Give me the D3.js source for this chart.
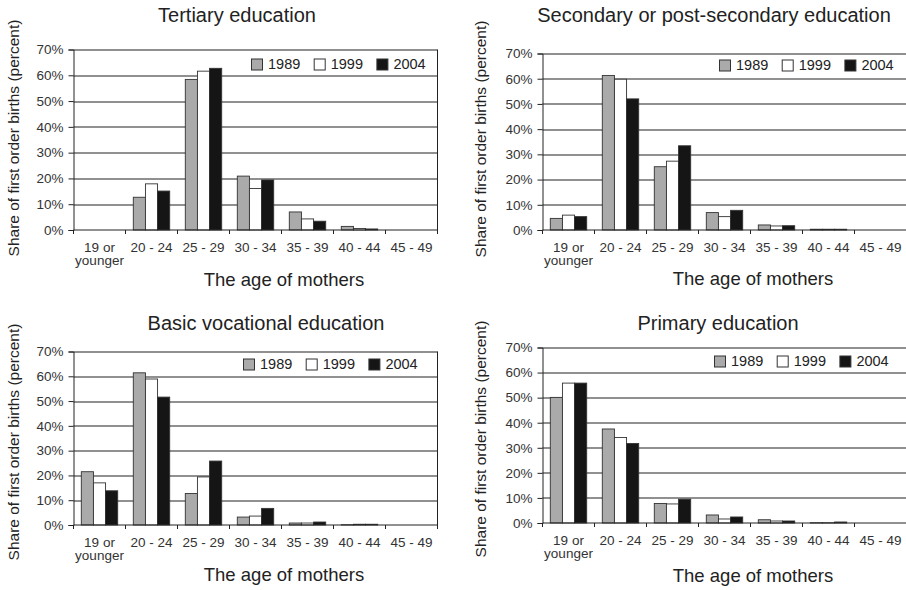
<!DOCTYPE html>
<html>
<head>
<meta charset="utf-8">
<script src="https://cdn.jsdelivr.net/npm/d3@7"></script>
<style>
  body { margin: 0; background: #fff; }
  svg { font-family: "Liberation Sans", Arial, sans-serif; }
</style>
</head>
<body>
<svg id="chart" width="906" height="590"></svg>
<script>
const categories = ['19 or younger', '20 - 24', '25 - 29', '30 - 34', '35 - 39', '40 - 44', '45 - 49'];
const years = ['1989', '1999', '2004'];
const yTicks = [0, 10, 20, 30, 40, 50, 60, 70];

const tertiary1989 = [0, 12.7, 58.4, 20.9, 7.0, 1.4, 0];
const tertiary1999 = [0, 17.9, 61.6, 16.1, 4.3, 0.6, 0];
const tertiary2004 = [0, 15.1, 62.7, 19.4, 3.4, 0.4, 0];

const secondary1989 = [4.6, 61.3, 25.1, 6.9, 2.0, 0.3, 0];
const secondary1999 = [5.9, 59.8, 27.3, 5.3, 1.6, 0.3, 0];
const secondary2004 = [5.3, 52.0, 33.4, 7.8, 1.7, 0.3, 0];

const vocational1989 = [21.5, 61.4, 12.7, 3.2, 0.8, 0.1, 0];
const vocational1999 = [17.0, 58.9, 19.4, 3.6, 0.8, 0.3, 0];
const vocational2004 = [13.8, 51.6, 25.8, 6.7, 1.2, 0.3, 0];

const primary1989 = [50.1, 37.5, 7.8, 3.2, 1.3, 0.1, 0];
const primary1999 = [55.8, 34.1, 7.6, 1.6, 0.8, 0.1, 0];
const primary2004 = [55.8, 31.7, 9.5, 2.4, 0.8, 0.4, 0];

const colors = ['#aaaaaa', '#ffffff', '#151515'];

// layout of each of the four small charts
const panels = [
  {title: 'Tertiary education', series: [tertiary1989, tertiary1999, tertiary2004],
   left: 73.5, top: 49.5, bottom: 230, titleX: 237, titleY: 22, xtX: 284, xtY: 286,
   ylX: 18.5, ylY: 138, legX: 251.5, legY: 59},
  {title: 'Secondary or post-secondary education', series: [secondary1989, secondary1999, secondary2004],
   left: 542.5, top: 53.5, bottom: 230, titleX: 714, titleY: 22, xtX: 753, xtY: 285,
   ylX: 486, ylY: 139, legX: 719.5, legY: 60},
  {title: 'Basic vocational education', series: [vocational1989, vocational1999, vocational2004],
   left: 73.5, top: 351.5, bottom: 525, titleX: 266, titleY: 330, xtX: 284, xtY: 581,
   ylX: 18.5, ylY: 442, legX: 243.5, legY: 359},
  {title: 'Primary education', series: [primary1989, primary1999, primary2004],
   left: 542.5, top: 347.5, bottom: 523, titleX: 718, titleY: 330, xtX: 753, xtY: 582,
   ylX: 486, ylY: 439, legX: 714.5, legY: 356}
];

const svg = d3.select('#chart');
const plotWidth = 364;

panels.forEach(function(p) {
  const height = p.bottom - p.top;
  const g = svg.append('g').attr('transform', 'translate(' + p.left + ',' + p.top + ')');

  const x = d3.scaleBand().domain(categories).range([0, plotWidth]);
  const xs = d3.scaleBand().domain(years).range([x.bandwidth() * 0.15, x.bandwidth() * 0.85]);
  const y = d3.scaleLinear().domain([0, 70]).range([height, 0]);

  // gridlines
  g.append('g')
    .selectAll('line')
    .data(yTicks.filter(d => d > 0))
    .join('line')
    .attr('x1', 0).attr('x2', plotWidth)
    .attr('y1', d => Math.round(y(d)) + 0.5).attr('y2', d => Math.round(y(d)) + 0.5)
    .attr('stroke', '#222').attr('stroke-width', 1.1);

  // right border
  g.append('line')
    .attr('x1', plotWidth).attr('x2', plotWidth)
    .attr('y1', 0).attr('y2', height)
    .attr('stroke', '#222');

  // bars
  p.series.forEach(function(values, i) {
    g.append('g')
      .selectAll('rect')
      .data(values.map((v, j) => ({cat: categories[j], v: v})).filter(d => d.v > 0))
      .join('rect')
      .attr('x', d => x(d.cat) + xs(years[i]))
      .attr('y', d => y(d.v))
      .attr('width', xs.bandwidth())
      .attr('height', d => height - y(d.v))
      .attr('fill', colors[i])
      .attr('stroke', '#333')
      .attr('stroke-width', 0.9);
  });

  // y axis
  const yAxis = g.append('g')
    .call(d3.axisLeft(y).tickValues(yTicks).tickFormat(d => d + '%').tickSize(5).tickPadding(5));
  yAxis.select('.domain').attr('stroke', '#222');
  yAxis.selectAll('.tick line').attr('stroke', '#222');
  yAxis.selectAll('text').attr('font-size', 13.5).attr('fill', '#333')
    .attr('font-family', '"Liberation Sans", Arial, sans-serif');

  // x axis line
  g.append('line')
    .attr('x1', 0).attr('x2', plotWidth)
    .attr('y1', height).attr('y2', height)
    .attr('stroke', '#222');

  // x boundary ticks
  g.append('g')
    .selectAll('line')
    .data(categories.map(c => x(c)).concat([plotWidth]))
    .join('line')
    .attr('x1', d => d).attr('x2', d => d)
    .attr('y1', height).attr('y2', height + 4)
    .attr('stroke', '#222');

  // x labels
  const xAxis = g.append('g')
    .attr('transform', 'translate(0,' + height + ')')
    .call(d3.axisBottom(x).tickSize(0).tickPadding(12));
  xAxis.select('.domain').remove();
  xAxis.selectAll('text')
    .attr('font-size', 13.5).attr('fill', '#333')
    .attr('font-family', '"Liberation Sans", Arial, sans-serif')
    .each(function(d) {
      if (d === '19 or younger') {
        const t = d3.select(this).text(null);
        t.append('tspan').attr('x', 0).text('19 or');
        t.append('tspan').attr('x', 0).attr('dy', '1.0em').text('younger');
      }
    });

  // legend
  const leg = svg.append('g').attr('transform', 'translate(' + p.legX + ',' + p.legY + ')');
  years.forEach(function(yr, i) {
    leg.append('rect')
      .attr('x', i * 62.7).attr('y', 0)
      .attr('width', 11).attr('height', 11)
      .attr('fill', colors[i]).attr('stroke', '#333');
    leg.append('text')
      .attr('x', i * 62.7 + 16.5).attr('y', 10)
      .attr('font-size', 14.5).attr('fill', '#222')
      .text(yr);
  });

  // titles
  svg.append('text')
    .attr('x', p.titleX).attr('y', p.titleY)
    .attr('text-anchor', 'middle').attr('font-size', 20).attr('fill', '#222')
    .text(p.title);
  svg.append('text')
    .attr('x', p.xtX).attr('y', p.xtY)
    .attr('text-anchor', 'middle').attr('font-size', 18.5).attr('fill', '#222')
    .text('The age of mothers');
  svg.append('text')
    .attr('transform', 'translate(' + p.ylX + ',' + p.ylY + ')rotate(-90)')
    .attr('text-anchor', 'middle').attr('font-size', 15.5).attr('fill', '#222')
    .text('Share of first order births (percent)');
});
</script>
</body>
</html>
